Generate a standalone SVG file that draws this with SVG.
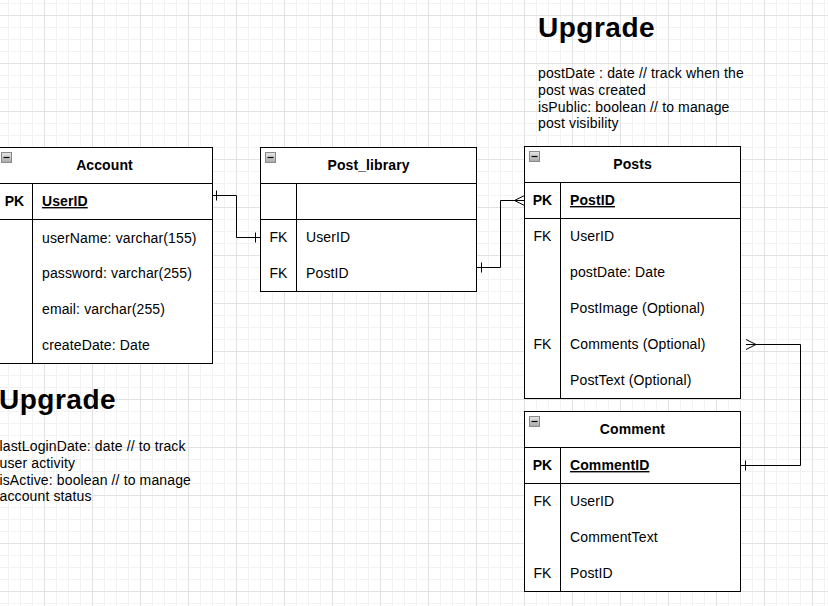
<svg xmlns="http://www.w3.org/2000/svg" width="828" height="606" viewBox="0 0 828 606">
<defs>
<pattern id="grid" x="44" y="15" width="48" height="48" patternUnits="userSpaceOnUse">
<path d="M12.5 0V48M24.5 0V48M36.5 0V48M0 12.5H48M0 24.5H48M0 36.5H48" stroke="#f2f2f2" stroke-width="1" fill="none"/>
<path d="M0.5 0V48M0 0.5H48" stroke="#e2e2e2" stroke-width="1" fill="none"/>
</pattern>
<linearGradient id="ig" x1="0" y1="0" x2="0" y2="1">
<stop offset="0" stop-color="#e8e8e8"/>
<stop offset="1" stop-color="#a8a8a8"/>
</linearGradient>
<g id="icon">
<rect x="0.5" y="0.5" width="10" height="10" fill="url(#ig)" stroke="#8a8a8a"/>
<path d="M2.5 5.5H8.5" stroke="#000" stroke-width="1.2"/>
</g>
</defs>
<style>
.t{fill:#fff;stroke:#000;stroke-width:1}
.l{stroke:#000;stroke-width:1;fill:none}
.h{font-family:"Liberation Sans",Arial,sans-serif;font-size:14px;font-weight:bold;text-anchor:middle;fill:#000;letter-spacing:0.1px}
.k{font-family:"Liberation Sans",Arial,sans-serif;font-size:14px;text-anchor:middle;fill:#000}
.kb{font-family:"Liberation Sans",Arial,sans-serif;font-size:14px;font-weight:bold;text-anchor:middle;fill:#000}
.f{font-family:"Liberation Sans",Arial,sans-serif;font-size:14px;fill:#000;letter-spacing:0.13px}
.fb{font-family:"Liberation Sans",Arial,sans-serif;font-size:14px;font-weight:bold;text-decoration:underline;fill:#000;letter-spacing:0.1px}
.up{font-family:"Liberation Sans",Arial,sans-serif;font-size:28px;font-weight:bold;fill:#000;letter-spacing:0.5px}
.c{stroke:#000;stroke-width:1;fill:none}
</style>
<rect width="828" height="606" fill="#fff"/>
<rect width="828" height="606" fill="url(#grid)"/>

<g id="account">
<rect class="t" x="-3.5" y="147.5" width="216" height="216"/>
<path class="l" d="M-3.5 183.5H212.5M-3.5 219.5H212.5M32.5 183.5V363.5"/>
<use href="#icon" x="1" y="152"/>
<text class="h" x="104.5" y="170">Account</text>
<text class="kb" x="14.5" y="206">PK</text>
<text class="fb" x="42" y="206">UserID</text>
<text class="f" x="42" y="243">userName: varchar(155)</text>
<text class="f" x="42" y="278">password: varchar(255)</text>
<text class="f" x="42" y="314">email: varchar(255)</text>
<text class="f" x="42" y="350">createDate: Date</text>
</g>

<g id="post_library">
<rect class="t" x="260.5" y="147.5" width="216" height="144"/>
<path class="l" d="M260.5 183.5H476.5M260.5 219.5H476.5M296.5 183.5V291.5"/>
<use href="#icon" x="265" y="152"/>
<text class="h" x="368.5" y="170">Post_library</text>
<text class="k" x="278.5" y="242">FK</text>
<text class="f" x="306" y="242">UserID</text>
<text class="k" x="278.5" y="278">FK</text>
<text class="f" x="306" y="278">PostID</text>
</g>

<g id="posts">
<rect class="t" x="524.5" y="146.5" width="216" height="252"/>
<path class="l" d="M524.5 182.5H740.5M524.5 218.5H740.5M560.5 182.5V398.5"/>
<use href="#icon" x="529" y="151"/>
<text class="h" x="632.5" y="169">Posts</text>
<text class="kb" x="542.5" y="205">PK</text>
<text class="fb" x="570" y="205">PostID</text>
<text class="k" x="542.5" y="241">FK</text>
<text class="f" x="570" y="241">UserID</text>
<text class="f" x="570" y="277">postDate: Date</text>
<text class="f" x="570" y="313">PostImage (Optional)</text>
<text class="k" x="542.5" y="349">FK</text>
<text class="f" x="570" y="349">Comments (Optional)</text>
<text class="f" x="570" y="385">PostText (Optional)</text>
</g>

<g id="comment">
<rect class="t" x="524.5" y="411.5" width="216" height="180"/>
<path class="l" d="M524.5 447.5H740.5M524.5 483.5H740.5M560.5 447.5V591.5"/>
<use href="#icon" x="529" y="416"/>
<text class="h" x="632.5" y="434">Comment</text>
<text class="kb" x="542.5" y="470">PK</text>
<text class="fb" x="570" y="470">CommentID</text>
<text class="k" x="542.5" y="506">FK</text>
<text class="f" x="570" y="506">UserID</text>
<text class="f" x="570" y="542">CommentText</text>
<text class="k" x="542.5" y="578">FK</text>
<text class="f" x="570" y="578">PostID</text>
</g>

<g id="upgrade_account">
<text class="up" x="-1" y="409">Upgrade</text>
<text class="f" x="-0.5" y="451">lastLoginDate: date // to track</text>
<text class="f" x="-0.5" y="467.8">user activity</text>
<text class="f" x="-0.5" y="484.6">isActive: boolean // to manage</text>
<text class="f" x="-0.5" y="501.4">account status</text>
</g>

<g id="upgrade_posts">
<text class="up" x="538" y="37">Upgrade</text>
<text class="f" x="538" y="78">postDate : date // track when the</text>
<text class="f" x="538" y="94.8">post was created</text>
<text class="f" x="538" y="111.6">isPublic: boolean // to manage</text>
<text class="f" x="538" y="128.4">post visibility</text>
</g>

<g id="connectors">
<path class="c" d="M212.5 195.5H236.5V237.5H260.5"/>
<path class="c" d="M216.5 190.5V200.5M255.5 232.5V242.5"/>
<path class="c" d="M476.5 267.5H500.5V200.5H524.5"/>
<path class="c" d="M481.5 262.5V272.5M524.5 195.5L514.5 200.5L524.5 205.5"/>
<path class="c" d="M746 344.5H800.5V465.5H740.5"/>
<path class="c" d="M746 339.5L756 344.5L746 349.5M745.5 460.5V470.5"/>
</g>
</svg>
